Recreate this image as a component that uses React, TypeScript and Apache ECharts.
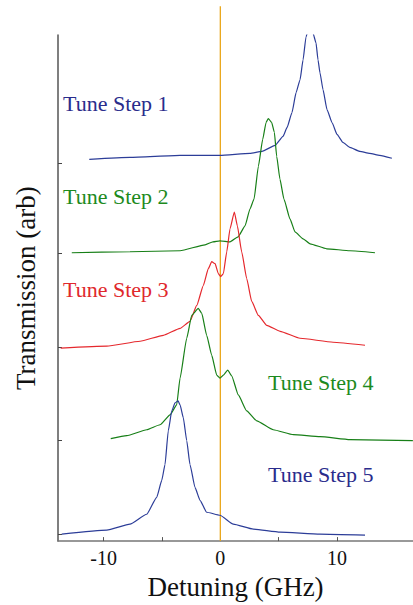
import React, { useEffect, useRef } from "react";
import * as echarts from "echarts";

// Detuning (GHz) and transmission (arb, relative to each trace's baseline)
const step1X = [-11.23, -7.74, -3.45, -0.03, 2.54, 3.57, 4.69, 5.37, 5.72, 6.14, 6.49, 6.83, 7.09, 7.34, 7.6, 7.77, 7.94, 8.2, 8.37, 8.54, 8.8, 9.14, 9.57, 10.0, 10.5, 11.1, 11.95, 12.8, 13.66, 14.7];
const step1Y = [4, 6, 8, 8, 10, 12, 18, 27, 36, 51, 71, 84, 104, 127, 137, 140, 131, 121, 104, 91, 74, 54, 41, 29, 21, 16, 12, 10, 8, 5];

const step2X = [-12.73, -7.74, -3.45, -1.31, -0.63, -0.03, 0.83, 1.52, 2.12, 2.54, 2.89, 3.26, 3.63, 3.92, 4.11, 4.4, 4.63, 4.83, 5.11, 5.45, 5.97, 6.4, 7.09, 7.69, 9.12, 11.11, 13.25];
const step2Y = [1, 2, 3, 9, 12, 13, 12, 17, 28, 45, 55, 88, 115, 132, 136, 132, 122, 98, 75, 55, 35, 22, 15, 10, 5, 3, 1];

const step3X = [-13.68, -9.73, -6.88, -4.88, -3.45, -2.6, -2.02, -1.46, -1.03, -0.74, -0.45, -0.17, 0.03, 0.26, 0.55, 0.83, 1.2, 1.46, 1.83, 2.26, 2.69, 3.26, 3.98, 5.12, 6.83, 9.66, 12.4];
const step3Y = [-1, 1, 6, 12, 19, 26, 42, 62, 79, 86, 84, 74, 71, 74, 96, 119, 136, 122, 96, 69, 46, 32, 22, 16, 9, 5, 2];

const step4X = [-9.39, -8.02, -6.31, -5.17, -4.31, -3.74, -3.45, -2.88, -2.45, -1.89, -1.59, -1.17, -0.74, -0.31, -0.03, 0.26, 0.63, 0.98, 1.54, 2.26, 3.12, 4.54, 6.26, 8.54, 11.11, 16.5];
const step4Y = [2, 5, 11, 16, 26, 36, 63, 103, 126, 133, 128, 106, 86, 66, 63, 66, 71, 65, 46, 30, 20, 11, 6, 4, 1, 0];

const step5X = [-13.59, -9.73, -7.74, -6.31, -5.45, -5.02, -4.74, -4.46, -4.16, -3.88, -3.62, -3.45, -3.17, -2.88, -2.6, -2.17, -1.74, -1.17, -0.03, 1.11, 2.83, 5.12, 8.54, 12.4];
const step5Y = [0, 4, 10, 20, 37, 54, 70, 104, 124, 132, 134, 130, 117, 94, 70, 47, 34, 22, 19, 10, 5, 2, 0, -1];

const stepNames = ["Tune Step 1", "Tune Step 2", "Tune Step 3", "Tune Step 4", "Tune Step 5"];
const offsets = [380, 289, 195, 101, 7];
const xTickValues = [-10, -5, 0, 5, 10];
const xLabelValues = [-10, 0, 10];
const markerX = 0;
const markerTop = 538;

const lineColors = ["#2c3d98", "#177f17", "#e5282d", "#177f17", "#2c3d98"];
const textColors = ["#2a2c8c", "#1d8a1d", "#e0282c", "#1d8a1d", "#2a2c8c"];
const FONT = "Liberation Serif";

export default function App() {
  const ref = useRef<HTMLDivElement>(null);
  useEffect(() => {
    if (!ref.current) return;
    const chart = echarts.init(ref.current, null, { renderer: "svg" });
    const traces = [
      { x: step1X, y: step1Y },
      { x: step2X, y: step2Y },
      { x: step3X, y: step3Y },
      { x: step4X, y: step4Y },
      { x: step5X, y: step5Y },
    ];
    const series: any[] = traces.map((t, i) => ({
      type: "line",
      name: stepNames[i],
      data: t.x.map((x, j) => [x, t.y[j] + offsets[i]]),
      symbol: "none",
      smooth: 0.15,
      smoothMonotone: "x",
      lineStyle: { color: lineColors[i], width: 1.2 },
      itemStyle: { color: lineColors[i] },
      z: 3,
    }));
    series.push({
      type: "line",
      name: "zero",
      data: [
        [markerX, 0],
        [markerX, markerTop],
      ],
      clip: false,
      symbol: "none",
      lineStyle: { color: "#eaa61a", width: 1.3 },
      z: 1,
    });

    const labelPos = [
      [63, 103],
      [63, 196],
      [63, 289],
      [268, 382],
      [268, 474],
    ];

    chart.setOption({
      animation: false,
      backgroundColor: "#ffffff",
      grid: { left: 58, top: 35, right: 0, bottom: 61, containLabel: false },
      xAxis: {
        type: "value",
        min: -13.91,
        max: 16.51,
        axisLine: { show: true, onZero: false, lineStyle: { color: "#777777", width: 1.6 } },
        axisTick: {
          show: true,
          inside: true,
          length: 4,
          customValues: xTickValues,
          lineStyle: { color: "#555555", width: 1 },
        },
        axisLabel: {
          customValues: xLabelValues,
          fontFamily: FONT,
          fontSize: 20,
          color: "#111111",
          margin: 7,
        },
        splitLine: { show: false },
        name: "Detuning (GHz)",
        nameLocation: "middle",
        nameGap: 28,
        nameTextStyle: { fontFamily: FONT, fontSize: 27, color: "#111111" },
      },
      yAxis: {
        type: "value",
        min: 0,
        max: 509,
        axisLine: { show: true, onZero: false, lineStyle: { color: "#555555", width: 1.5 } },
        axisTick: {
          show: true,
          inside: true,
          length: 4,
          customValues: offsets,
          lineStyle: { color: "#444444", width: 1 },
        },
        axisLabel: { show: false },
        splitLine: { show: false },
        name: "Transmission (arb)",
        nameLocation: "middle",
        nameGap: 19,
        nameTextStyle: { fontFamily: FONT, fontSize: 27, color: "#111111" },
      },
      series,
      graphic: stepNames.map((name, i) => ({
        type: "text",
        x: labelPos[i][0],
        y: labelPos[i][1],
        style: {
          text: name,
          fill: textColors[i],
          fontFamily: FONT,
          fontSize: 22,
          textAlign: "left",
          textVerticalAlign: "middle",
        },
        z: 10,
      })),
    });
    return () => chart.dispose();
  }, []);
  return (
    <div
      ref={ref}
      style={{ position: "fixed", left: 0, top: 0, width: 413, height: 605, background: "#fff" }}
    />
  );
}
